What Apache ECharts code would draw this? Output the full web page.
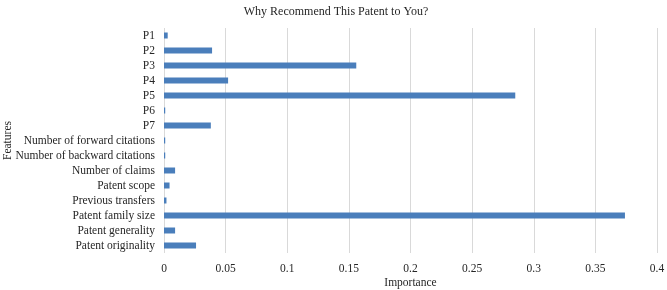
<!DOCTYPE html>
<html>
<head>
<meta charset="utf-8">
<script src="https://cdn.jsdelivr.net/npm/echarts@6/dist/echarts.min.js"></script>
<style>html,body{margin:0;padding:0;background:#fff}#c{width:667px;height:290px}</style>
</head>
<body>
<div id="c"></div>
<script>
const categories = ["P1","P2","P3","P4","P5","P6","P7","Number of forward citations","Number of backward citations","Number of claims","Patent scope","Previous transfers","Patent family size","Patent generality","Patent originality"];
const importance = [0.003,0.039,0.156,0.052,0.285,0.001,0.038,0.001,0.001,0.009,0.0045,0.002,0.374,0.009,0.026];
const xTicks = [0,0.05,0.1,0.15,0.2,0.25,0.3,0.35,0.4];
const titleText = "Why Recommend This Patent to You?";
const xName = "Importance";
const yName = "Features";

const font = "'Liberation Serif','Times New Roman',serif";
const txt = '#262626';
const chart = echarts.init(document.getElementById('c'));
chart.setOption({
  animation:false,
  title:{text:titleText,left:331,top:1,textAlign:'center',textStyle:{fontFamily:font,fontSize:12,fontWeight:'normal',color:txt}},
  grid:{left:164,right:10,top:28,bottom:37,containLabel:false,outerBoundsMode:'none'},
  xAxis:{type:'value',min:0,max:0.4,interval:0.05,nameMoveOverlap:false,
    name:xName,nameLocation:'middle',nameGap:24,nameTextStyle:{fontFamily:font,fontSize:11.5,color:txt}},
  yAxis:{type:'category',data:categories,inverse:true,nameMoveOverlap:false,
    name:yName,nameLocation:'middle',nameGap:150,nameRotate:90,nameTextStyle:{fontFamily:font,fontSize:11.5,color:txt},
    axisLine:{show:false},axisTick:{show:false},
    axisLabel:{fontFamily:font,fontSize:11.5,color:txt,margin:9,interval:0}},
  series:[{type:'bar',data:importance,barWidth:6,itemStyle:{color:'#4a7ebb'}}]
});
chart.setOption({xAxis:{axisLine:{show:false},axisTick:{show:false},
    axisLabel:{fontFamily:font,fontSize:11.5,color:txt,margin:10,formatter:v=>{const t=xTicks.find(x=>Math.abs(x-v)<1e-9);return t===undefined?'':String(t);}},
    splitLine:{show:true,lineStyle:{color:'#d9d9d9',width:1}}}});
</script>
</body>
</html>
